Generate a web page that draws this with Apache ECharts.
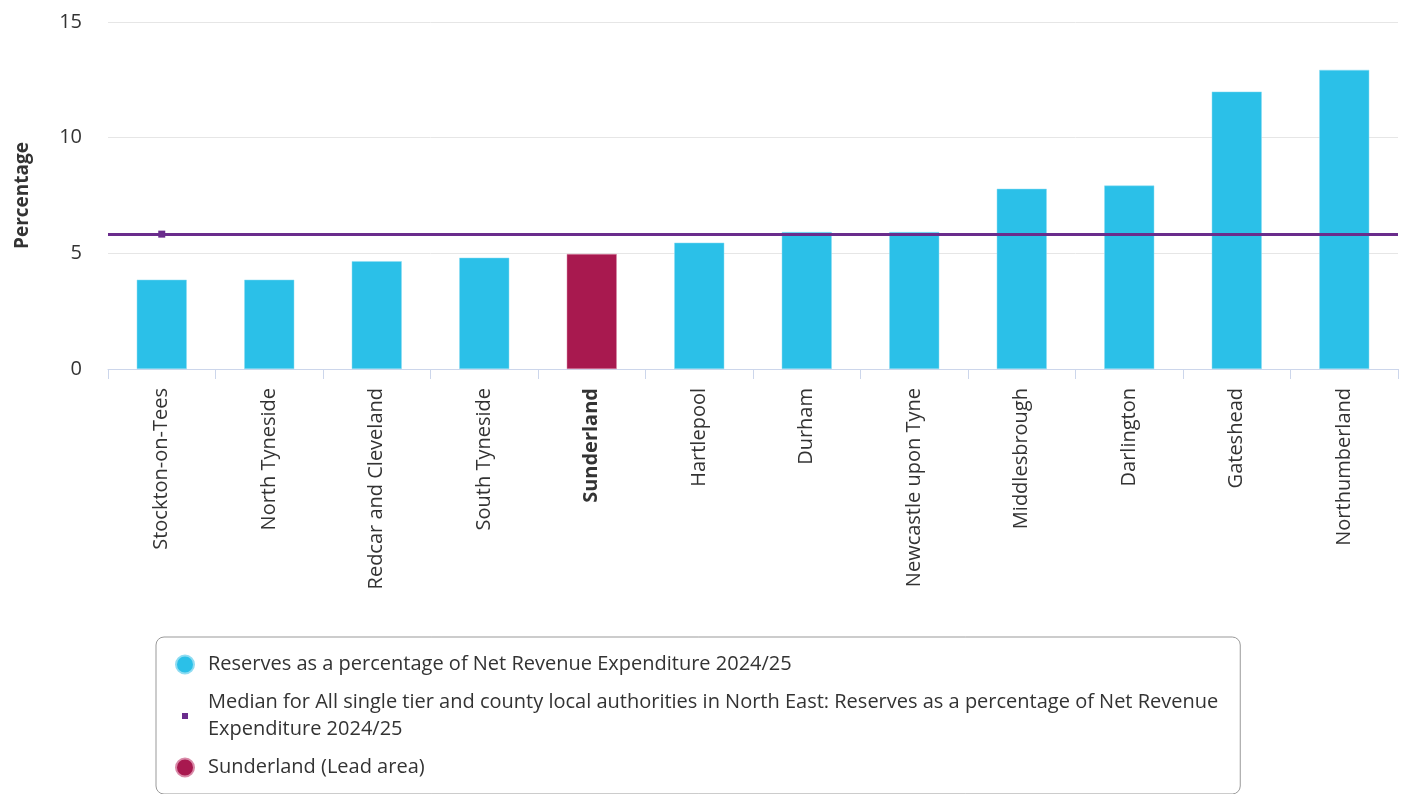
<!DOCTYPE html>
<html>
<head>
<meta charset="utf-8">
<script src="https://cdn.jsdelivr.net/npm/echarts@6/dist/echarts.min.js"></script>
<style>
html,body{margin:0;padding:0;background:#fff;}
#chart{width:1406px;height:794px;}
</style>
</head>
<body>
<div id="chart"></div>
<script>
const categories = ['Stockton-on-Tees','North Tyneside','Redcar and Cleveland','South Tyneside','Sunderland','Hartlepool','Durham','Newcastle upon Tyne','Middlesbrough','Darlington','Gateshead','Northumberland'];
const reserves = [3.86, 3.86, 4.66, 4.81, 4.97, 5.46, 5.92, 5.92, 7.79, 7.93, 11.99, 12.93];
const leadArea = 'Sunderland';
const median = 5.83;
const yTicks = {min: 0, max: 15, interval: 5};

const seriesNames = [
  'Reserves as a percentage of Net Revenue Expenditure 2024/25',
  'Median for All single tier and county local authorities in North East: Reserves as a percentage of Net Revenue\nExpenditure 2024/25',
  'Sunderland (Lead area)'
];

const blue = '#2bc0e8';
const crimson = '#a8194f';
const purple = '#6a2c8c';
const font = '"Open Sans", "Noto Sans", sans-serif';

const mainData = categories.map((c, i) => c === leadArea ? '-' : reserves[i]);
const leadData = categories.map((c, i) => c === leadArea ? reserves[i] : '-');
const medianData = categories.map((c, i) => i === 0 ? median : '-');

const chart = echarts.init(document.getElementById('chart'));
chart.setOption({
  animation: false,
  textStyle: {fontFamily: font},
  grid: {left: 108, right: 8, top: 22, bottom: 425},
  xAxis: {
    type: 'category',
    data: categories,
    axisLine: {lineStyle: {color: '#ccd6eb', width: 1}},
    axisTick: {show: true, alignWithLabel: false, length: 10, lineStyle: {color: '#ccd6eb'}},
    axisLabel: {
      rotate: 90, margin: 19, color: '#333', fontSize: 20, fontFamily: font,
      formatter: v => v === leadArea ? '{b|' + v + '}' : v,
      rich: {b: {fontWeight: 'bold', fontSize: 20, color: '#333', fontFamily: font}}
    }
  },
  yAxis: {
    type: 'value',
    min: yTicks.min, max: yTicks.max, interval: yTicks.interval,
    name: 'Percentage',
    nameLocation: 'middle',
    nameGap: 76,
    nameTextStyle: {fontWeight: 'bold', fontSize: 19, color: '#333', fontFamily: font},
    axisLabel: {color: '#333', fontSize: 20, margin: 26, fontFamily: font},
    axisLine: {show: false},
    axisTick: {show: false},
    splitLine: {lineStyle: {color: '#e6e6e6', width: 1}}
  },
  legend: {
    orient: 'vertical',
    left: 156,
    top: 637,
    padding: [14, 22, 13, 19],
    borderColor: '#999',
    borderWidth: 1,
    borderRadius: 8,
    itemWidth: 18,
    itemHeight: 18,
    itemGap: 11,
    textStyle: {color: '#333', fontSize: 20, lineHeight: 27, fontFamily: font, padding: [0, 0, 0, 9]},
    data: [
      {name: seriesNames[0], icon: 'circle', itemStyle: {color: blue}},
      {name: seriesNames[1], icon: 'path://M0,0 M18,18 M6,6 h6 v6 h-6 z', itemStyle: {color: purple}},
      {name: seriesNames[2], icon: 'circle', itemStyle: {color: crimson}}
    ]
  },
  series: [
    {
      name: seriesNames[0],
      type: 'bar',
      data: mainData,
      barWidth: 50,
      barGap: '-100%',
      itemStyle: {color: blue, borderColor: '#8fdcf2', borderWidth: 0.5},
      z: 2
    },
    {
      name: seriesNames[1],
      type: 'line',
      data: medianData,
      symbol: 'rect',
      symbolSize: 7,
      showSymbol: true,
      itemStyle: {color: purple},
      lineStyle: {color: purple, width: 3},
      z: 5,
      markLine: {
        silent: true,
        symbol: 'none',
        label: {show: false},
        lineStyle: {color: purple, width: 3, type: 'solid'},
        data: [{yAxis: median}]
      }
    },
    {
      name: seriesNames[2],
      type: 'bar',
      data: leadData,
      barWidth: 50,
      barGap: '-100%',
      itemStyle: {color: crimson, borderColor: '#d98aa8', borderWidth: 0.5},
      z: 2
    }
  ]
});
</script>
</body>
</html>
